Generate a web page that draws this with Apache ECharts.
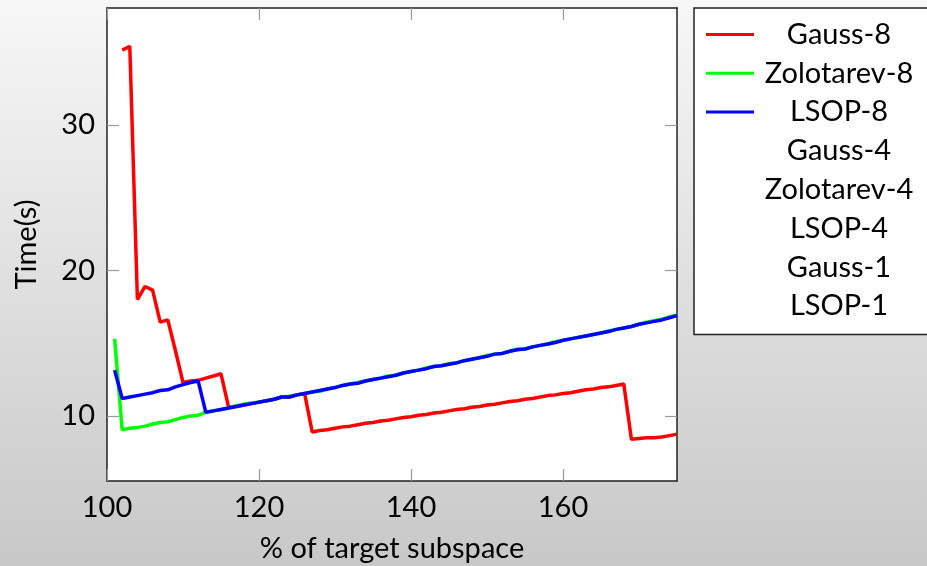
<!DOCTYPE html>
<html>
<head>
<meta charset="utf-8">
<title>Time vs % of target subspace</title>
<script src="https://cdn.jsdelivr.net/npm/echarts@6/dist/echarts.min.js"></script>
<style>
  html, body { margin: 0; padding: 0; }
  #chart { width: 927px; height: 566px; }
</style>
</head>
<body>
<div id="chart"></div>
<script>
// % of target subspace
const percent = [
  101, 102, 103, 104, 105, 106, 107, 108, 109, 110,
  111, 112, 113, 114, 115, 116, 117, 118, 119, 120,
  121, 122, 123, 124, 125, 126, 127, 128, 129, 130,
  131, 132, 133, 134, 135, 136, 137, 138, 139, 140,
  141, 142, 143, 144, 145, 146, 147, 148, 149, 150,
  151, 152, 153, 154, 155, 156, 157, 158, 159, 160,
  161, 162, 163, 164, 165, 166, 167, 168, 169, 170,
  171, 172, 173, 174, 175
];

// Time(s)
const gauss8 = [
  null, 35.15, 35.4, 18.0, 18.9, 18.65, 16.45, 16.6, 14.5, 12.3,
  12.4, 12.45, 12.6, 12.75, 12.9, 10.6, 10.65, 10.75, 10.85, 10.95,
  11.05, 11.15, 11.3, 11.3, 11.45, 11.55, 8.9, 9.0, 9.05, 9.15,
  9.25, 9.3, 9.4, 9.5, 9.55, 9.65, 9.7, 9.8, 9.9, 9.95,
  10.05, 10.1, 10.2, 10.25, 10.35, 10.45, 10.5, 10.6, 10.65, 10.75,
  10.8, 10.9, 11.0, 11.05, 11.15, 11.2, 11.3, 11.4, 11.45, 11.55,
  11.6, 11.7, 11.8, 11.85, 11.95, 12.0, 12.1, 12.2, 8.4, 8.45,
  8.5, 8.5, 8.55, 8.65, 8.75
];

const zolotarev8 = [
  15.3, 9.05, 9.15, 9.2, 9.3, 9.45, 9.55, 9.6, 9.75, 9.9,
  10.0, 10.05, 10.25, 10.35, 10.45, 10.55, 10.7, 10.8, 10.9, 10.95,
  11.05, 11.15, 11.3, 11.35, 11.45, 11.55, 11.65, 11.7, 11.85, 11.95,
  12.1, 12.2, 12.3, 12.4, 12.5, 12.6, 12.75, 12.8, 12.95, 13.05,
  13.15, 13.3, 13.4, 13.45, 13.6, 13.65, 13.8, 13.9, 14.0, 14.15,
  14.25, 14.3, 14.45, 14.6, 14.6, 14.75, 14.85, 14.95, 15.1, 15.2,
  15.3, 15.4, 15.5, 15.6, 15.7, 15.85, 15.95, 16.05, 16.15, 16.3,
  16.45, 16.55, 16.65, 16.8, 16.95
];

const lsop8 = [
  13.15, 11.2, 11.3, 11.4, 11.5, 11.6, 11.75, 11.8, 12.0, 12.15,
  12.3, 12.4, 10.25, 10.35, 10.45, 10.55, 10.65, 10.75, 10.85, 10.95,
  11.05, 11.15, 11.3, 11.3, 11.45, 11.55, 11.65, 11.75, 11.85, 11.95,
  12.1, 12.2, 12.25, 12.4, 12.5, 12.6, 12.7, 12.8, 12.95, 13.05,
  13.15, 13.25, 13.4, 13.45, 13.55, 13.65, 13.8, 13.9, 14.0, 14.1,
  14.25, 14.3, 14.45, 14.55, 14.6, 14.75, 14.85, 14.95, 15.05, 15.2,
  15.3, 15.4, 15.5, 15.6, 15.7, 15.8, 15.95, 16.05, 16.15, 16.3,
  16.4, 16.5, 16.6, 16.75, 16.9
];

const xTicks = [100, 120, 140, 160];
const yTicks = [10, 20, 30];

const seriesNames = ['Gauss-8', 'Zolotarev-8', 'LSOP-8', 'Gauss-4', 'Zolotarev-4', 'LSOP-4', 'Gauss-1', 'LSOP-1'];
const seriesData = [gauss8, zolotarev8, lsop8, [], [], [], [], []];
const seriesColors = ['#ff0000', '#00ff00', '#0000ff', 'rgba(0,0,0,0)', 'rgba(0,0,0,0)', 'rgba(0,0,0,0)', 'rgba(0,0,0,0)', 'rgba(0,0,0,0)'];

const font = 'Lato, "Open Sans", sans-serif';

const chart = echarts.init(document.getElementById('chart'));

const frameLine = { show: true, onZero: false, lineStyle: { color: '#222', width: 1.5 } };
const tickStyle = (vals) => ({
    show: true, inside: true, length: 12, customValues: vals,
    lineStyle: { color: '#999', width: 1.2 }
});

chart.setOption({
    animation: false,
    backgroundColor: {
        type: 'linear', x: 0, y: 0, x2: 0, y2: 1,
        colorStops: [{ offset: 0, color: '#f7f7f7' }, { offset: 1, color: '#c8c8c8' }]
    },
    grid: {
        left: 107, top: 8, right: 250, bottom: 85,
        outerBoundsMode: 'none',
        show: true, backgroundColor: '#ffffff', borderWidth: 0
    },
    legend: {
        orient: 'vertical',
        left: 694, top: 8,
        padding: [12, 20, 14, 12],
        itemGap: 9.8,
        itemWidth: 48, itemHeight: 3,
        icon: 'rect',
        backgroundColor: '#ffffff',
        borderColor: '#222', borderWidth: 1.5,
        selectedMode: false,
        data: seriesNames,
        formatter: name => '{c|' + name + '}',
        textStyle: {
            color: '#000',
            rich: {
                c: { width: 160, align: 'center', fontSize: 29, lineHeight: 28, fontFamily: font, color: '#000' }
            }
        }
    },
    xAxis: [
        {
            type: 'value', min: 100, max: 175, position: 'bottom',
            name: '% of target subspace', nameLocation: 'middle', nameGap: 53,
            nameTextStyle: { fontSize: 29, fontFamily: font, color: '#000' },
            axisLine: frameLine,
            axisTick: tickStyle(xTicks),
            axisLabel: { customValues: xTicks, fontSize: 29, fontFamily: font, color: '#000', margin: 12 },
            splitLine: { show: false }
        },
        {
            type: 'value', min: 100, max: 175, position: 'top',
            axisLine: frameLine,
            axisTick: tickStyle(xTicks),
            axisLabel: { show: false },
            splitLine: { show: false }
        }
    ],
    yAxis: [
        {
            type: 'value', min: 5.53, max: 38.04, position: 'left',
            name: 'Time(s)', nameLocation: 'middle', nameGap: 66,
            nameTextStyle: { fontSize: 29, fontFamily: font, color: '#000' },
            axisLine: frameLine,
            axisTick: tickStyle(yTicks),
            axisLabel: { customValues: yTicks, fontSize: 29, fontFamily: font, color: '#000', margin: 12 },
            splitLine: { show: false }
        },
        {
            type: 'value', min: 5.53, max: 38.04, position: 'right',
            axisLine: frameLine,
            axisTick: tickStyle(yTicks),
            axisLabel: { show: false },
            splitLine: { show: false }
        }
    ],
    series: seriesNames.map((name, i) => ({
        name: name,
        type: 'line',
        data: seriesData[i].map((v, j) => [percent[j], v]),
        showSymbol: false,
        connectNulls: false,
        color: seriesColors[i],
        itemStyle: { color: seriesColors[i] },
        lineStyle: { color: seriesColors[i], width: 3.5 },
        z: 2 + i
    }))
});
</script>
</body>
</html>
